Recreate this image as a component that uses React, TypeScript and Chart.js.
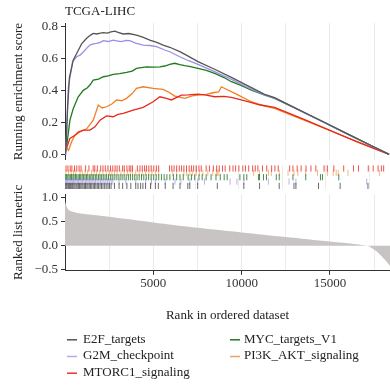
import React, { useEffect, useRef } from "react";
import { Chart, registerables } from "chart.js";

Chart.register(...registerables);

const FONT = "'Liberation Serif', 'Times New Roman', Times, serif";
const AXIS = "#333333";
const GRID = "#ebebeb";
const X_MAX = 18400;

const chartTitle = "TCGA-LIHC";
const esTitle = "Running enrichment score";
const metricTitle = "Ranked list metric";
const xTitle = "Rank in ordered dataset";
const xGridValues = [2500, 5000, 7500, 10000, 12500, 15000, 17500];
const xTickLabels = [5000, 10000, 15000];

const seriesNames = ["E2F_targets", "G2M_checkpoint", "MTORC1_signaling", "MYC_targets_V1", "PI3K_AKT_signaling"];
const seriesColors = ["#555555", "#9a8fe6", "#e8291e", "#1d7a1d", "#f07f22"];
const legendColors = ["#555555", "#b3aaea", "#e03a30", "#1d7a1d", "#f2a06a"];
const rugColors = [
  "rgba(70,70,70,0.8)",
  "rgba(140,128,225,0.6)",
  "rgba(232,40,30,0.8)",
  "rgba(30,112,30,0.8)",
  "rgba(240,140,60,0.62)",
];
// rug row (bottom = 0): E2F, G2M, MYC, PI3K, MTORC1
const rugRows = [0, 1, 4, 2, 3];

// Running enrichment score curves
const e2fRank = [0, 60, 150, 250, 470, 660, 940, 1225, 1450, 1600, 1800, 2000, 2165, 2400, 2600, 2825, 3000, 3300, 3600, 4050, 4400, 4800, 5200, 5555, 5930, 6500, 7000, 7530, 8500, 9420, 10500, 11300, 11865, 13000, 14500, 16000, 17300, 18350];
const e2fES = [0, 0.05, 0.3, 0.48, 0.59, 0.63, 0.69, 0.725, 0.745, 0.756, 0.752, 0.758, 0.76, 0.757, 0.765, 0.77, 0.762, 0.752, 0.755, 0.745, 0.732, 0.714, 0.7, 0.683, 0.669, 0.642, 0.612, 0.579, 0.53, 0.481, 0.42, 0.375, 0.354, 0.292, 0.21, 0.128, 0.057, 0];

const g2mRank = [0, 50, 190, 430, 660, 850, 1035, 1250, 1410, 1600, 1790, 2000, 2165, 2450, 2730, 3000, 3200, 3450, 3670, 4000, 4425, 4800, 5180, 5650, 5930, 6500, 7000, 7530, 8500, 9420, 10300, 11300, 11865, 13000, 14500, 16000, 17300, 18350];
const g2mES = [0, 0.02, 0.42, 0.58, 0.61, 0.62, 0.64, 0.665, 0.683, 0.69, 0.694, 0.7, 0.71, 0.705, 0.714, 0.708, 0.704, 0.712, 0.71, 0.695, 0.683, 0.68, 0.673, 0.652, 0.641, 0.61, 0.585, 0.5625, 0.515, 0.469, 0.42, 0.37, 0.352, 0.29, 0.209, 0.127, 0.056, 0];

const mtorRank = [0, 60, 280, 565, 750, 1035, 1410, 1695, 1980, 2355, 2730, 3000, 3300, 3860, 4425, 4990, 5370, 5745, 6025, 6300, 6590, 7000, 7530, 8000, 8475, 9000, 9420, 10360, 11000, 11865, 13500, 15000, 16500, 18350];
const mtorES = [0, 0.03, 0.1, 0.12, 0.14, 0.152, 0.152, 0.172, 0.214, 0.24, 0.235, 0.25, 0.256, 0.277, 0.294, 0.329, 0.36, 0.35, 0.34, 0.355, 0.37, 0.372, 0.377, 0.37, 0.36, 0.362, 0.356, 0.329, 0.31, 0.294, 0.22, 0.15, 0.08, 0];

const mycRank = [0, 60, 280, 470, 750, 1035, 1250, 1410, 1600, 1900, 2165, 2450, 2730, 3100, 3485, 3800, 4050, 4615, 5000, 5370, 5650, 5930, 6215, 6500, 6780, 7100, 7530, 8000, 8475, 9000, 9420, 10000, 10550, 11200, 11865, 13000, 14500, 16000, 17300, 18350];
const mycES = [0, 0.02, 0.214, 0.287, 0.36, 0.4, 0.415, 0.433, 0.464, 0.47, 0.485, 0.49, 0.5, 0.505, 0.512, 0.52, 0.5375, 0.547, 0.545, 0.547, 0.552, 0.5625, 0.569, 0.56, 0.554, 0.548, 0.5375, 0.525, 0.506, 0.48, 0.454, 0.43, 0.402, 0.375, 0.35, 0.29, 0.209, 0.127, 0.056, 0];

const pi3kRank = [0, 60, 200, 375, 565, 850, 1225, 1600, 1885, 2100, 2355, 2650, 2920, 3200, 3485, 3800, 4050, 4425, 4990, 5555, 5930, 6215, 6780, 7200, 7530, 8000, 8380, 8700, 8850, 9700, 10550, 11200, 11865, 13000, 14500, 16000, 17300, 18350];
const pi3kES = [0, 0.045, 0.025, 0.079, 0.12, 0.14, 0.16, 0.214, 0.308, 0.29, 0.2975, 0.315, 0.34, 0.335, 0.35, 0.38, 0.4125, 0.4225, 0.4125, 0.406, 0.385, 0.364, 0.35, 0.365, 0.37, 0.375, 0.385, 0.39, 0.4225, 0.376, 0.329, 0.305, 0.2875, 0.237, 0.171, 0.104, 0.047, 0];

// Gene-set hit positions (rug)
const e2fHits = [20, 75, 130, 195, 255, 320, 385, 440, 510, 570, 640, 700, 770, 835, 905, 975, 1040, 1115, 1180, 1255, 1320, 1395, 1470, 1540, 1625, 1700, 1775, 1855, 1930, 2015, 2100, 2185, 2280, 2370, 2470, 2560, 2650, 2844, 3108, 3314, 3560, 3785, 4068, 4199, 4350, 4480, 4633, 4916, 5198, 5368, 5763, 6215, 6611, 7063, 7175, 7628, 8758, 10283, 11187, 12317, 13165, 13278, 14577, 15820, 17420];
const g2mHits = [25, 90, 150, 220, 290, 350, 420, 490, 560, 630, 710, 780, 860, 930, 1010, 1090, 1170, 1250, 1330, 1420, 1500, 1590, 1680, 1760, 1850, 1950, 2040, 2140, 2240, 2340, 2450, 2550, 2660, 2750, 3108, 3503, 4068, 4633, 4972, 5198, 5763, 6328, 6667, 7175, 7628, 8023, 9492, 9888, 10283, 11696, 12882, 13278, 17346];
const mtorHits = [60, 170, 300, 395, 546, 678, 810, 923, 1186, 1375, 1619, 1714, 1864, 2053, 2184, 2316, 2467, 2617, 2749, 2881, 2994, 3126, 3314, 3408, 3559, 3691, 3785, 3879, 4161, 4312, 4444, 4576, 4689, 4821, 4952, 5103, 5254, 5386, 6007, 6139, 6271, 6421, 6572, 6704, 6836, 6986, 7137, 7269, 7400, 7551, 7702, 7834, 8116, 8305, 8530, 8719, 8870, 9058, 9208, 9472, 9660, 9811, 9999, 10225, 10375, 10564, 10790, 10941, 11091, 11355, 11600, 11882, 12070, 12259, 12918, 13106, 13351, 13577, 13859, 14142, 14425, 14895, 15084, 15460, 16025, 16590, 16873, 17438, 17720, 18003, 18191, 18323];
const mycHits = [20, 95, 160, 235, 305, 375, 455, 520, 600, 675, 755, 830, 905, 985, 1070, 1150, 1235, 1315, 1400, 1485, 1565, 1650, 1745, 1830, 1925, 2015, 2105, 2200, 2300, 2395, 2500, 2610, 2715, 2825, 2940, 3055, 3170, 3285, 3400, 3520, 3645, 3760, 3890, 4010, 4140, 4265, 4400, 4530, 4670, 4810, 4950, 5100, 5245, 5390, 5545, 5700, 5860, 6030, 6233, 6421, 6610, 6798, 7081, 7269, 7457, 7702, 7890, 8116, 8399, 8681, 8927, 9153, 9323, 10057, 10283, 10453, 11131, 11187, 11413, 11583, 12148, 12318, 13108, 13843, 14690, 14803, 15743];
const pi3kHits = [56, 207, 358, 490, 621, 866, 998, 1149, 1299, 1525, 1676, 1808, 1996, 2184, 2373, 2561, 2693, 2844, 2994, 3220, 3408, 3597, 3747, 3879, 4067, 4256, 4444, 4632, 4821, 5009, 5198, 5386, 6195, 6421, 6836, 6986, 7175, 7325, 7551, 7740, 7928, 8211, 8493, 8700, 8776, 8850, 10848, 11187, 11696, 11865, 12317, 12826, 13165, 13390, 13843, 14521, 15086, 15424, 15594, 15707, 16272, 18080];

// Ranked list metric
const metricRank = [0, 30, 100, 200, 400, 800, 1200, 2000, 2500, 3500, 5000, 7500, 10000, 12500, 15000, 16500, 16800, 17100, 17300, 17650, 17950, 18250, 18400];
const metricValue = [0.93, 0.88, 0.8, 0.74, 0.71, 0.67, 0.65, 0.62, 0.6, 0.55, 0.48, 0.37, 0.275, 0.18, 0.085, 0.03, 0.015, 0, -0.03, -0.12, -0.23, -0.35, -0.42];

const esRanks = [e2fRank, g2mRank, mtorRank, mycRank, pi3kRank];
const esValues = [e2fES, g2mES, mtorES, mycES, pi3kES];
const hitLists = [e2fHits, g2mHits, mtorHits, mycHits, pi3kHits];

const font13 = { family: FONT, size: 13, weight: "normal" as const };

function fmt(v: number) {
  const s = Math.abs(v).toFixed(1);
  return v < -1e-9 ? "\u2212" + s : s;
}

function isLabelled(v: any) {
  return xTickLabels.indexOf(Math.round(Number(v))) >= 0;
}

function xScale(showLabels: boolean) {
  return {
    type: "linear",
    min: 0,
    max: X_MAX,
    afterBuildTicks: (s: any) => {
      s.ticks = xGridValues.map((v) => ({ value: v }));
    },
    ticks: {
      display: showLabels,
      autoSkip: false,
      maxRotation: 0,
      minRotation: 0,
      padding: 1,
      font: font13,
      color: AXIS,
      callback: function (v: any) {
        return isLabelled(v) ? String(Math.round(Number(v))) : "";
      },
    },
    grid: {
      color: GRID,
      lineWidth: 1,
      drawTicks: showLabels,
      tickLength: 4,
      tickColor: (c: any) => (c.tick && isLabelled(c.tick.value) ? AXIS : "rgba(0,0,0,0)"),
    },
    border: { display: showLabels, color: AXIS, width: 1 },
    title: showLabels
      ? { display: true, text: xTitle, font: font13, color: "#222", padding: { top: 15, bottom: 4 } }
      : { display: false },
    afterFit: (s: any) => {
      s.paddingLeft = 0;
      s.paddingRight = 0;
    },
  };
}

function yScale(min: number, max: number, step: number, title: string) {
  return {
    type: "linear",
    min,
    max,
    ticks: { stepSize: step, includeBounds: false, padding: 3, font: font13, color: AXIS, callback: (v: number) => fmt(v) },
    grid: { drawOnChartArea: false, drawTicks: true, tickLength: 4, tickColor: AXIS },
    border: { display: true, color: AXIS, width: 1 },
    title: { display: true, text: title, font: font13, color: "#222", padding: { top: 11, bottom: 0 } },
    afterFit: (s: any) => {
      s.width = 65;
      s.paddingTop = 0;
      s.paddingBottom = 0;
    },
  };
}

const legendPlugin = {
  id: "gseaLegend",
  afterDraw(chart: any) {
    const ctx = chart.ctx;
    const left = chart.chartArea.left;
    const base = chart.scales.x.bottom;
    const rowsY = [12.3, 29, 45.7];
    const colLine = [2, 165];
    const colText = [18, 179];
    ctx.save();
    ctx.font = `13px ${FONT}`;
    ctx.textBaseline = "middle";
    ctx.textAlign = "left";
    seriesNames.forEach((name, i) => {
      const col = i < 3 ? 0 : 1;
      const row = i < 3 ? i : i - 3;
      const y = base + rowsY[row];
      ctx.strokeStyle = legendColors[i];
      ctx.lineWidth = 1.5;
      ctx.beginPath();
      ctx.moveTo(left + colLine[col], y + 0.5);
      ctx.lineTo(left + colLine[col] + 10, y + 0.5);
      ctx.stroke();
      ctx.fillStyle = "#222";
      ctx.fillText(name, left + colText[col], y);
    });
    ctx.restore();
  },
};

export default function App() {
  const topRef = useRef<HTMLCanvasElement>(null);
  const rugRef = useRef<HTMLCanvasElement>(null);
  const botRef = useRef<HTMLCanvasElement>(null);

  useEffect(() => {
    const common = {
      animation: false,
      responsive: false,
      maintainAspectRatio: false,
      devicePixelRatio: 1,
      events: [],
    };

    const top = new Chart(topRef.current as HTMLCanvasElement, {
      type: "line",
      data: {
        datasets: seriesNames.map((name, i) => ({
          label: name,
          data: esRanks[i].map((r, k) => ({ x: r, y: esValues[i][k] })),
          borderColor: seriesColors[i],
          backgroundColor: seriesColors[i],
          borderWidth: 1.3,
          pointRadius: 0,
          fill: false,
          tension: 0,
        })),
      },
      options: {
        ...common,
        layout: { padding: 0 },
        plugins: {
          legend: { display: false },
          tooltip: { enabled: false },
          title: {
            display: true,
            text: chartTitle,
            align: "start",
            fullSize: false,
            font: font13,
            color: "#222",
            padding: { top: 4, bottom: 3.5 },
          },
        },
        scales: {
          x: xScale(false),
          y: yScale(-0.035, 0.82, 0.2, esTitle),
        },
      } as any,
    });

    const rug = new Chart(rugRef.current as HTMLCanvasElement, {
      type: "scatter",
      data: {
        datasets: seriesNames.map((name, i) => ({
          label: name,
          data: hitLists[i].map((r) => ({ x: r, y: rugRows[i] })),
          pointStyle: "line",
          pointRotation: 90,
          pointRadius: 3.1,
          pointBorderWidth: 1,
          pointBorderColor: rugColors[i],
          pointBackgroundColor: rugColors[i],
          borderColor: rugColors[i],
          showLine: false,
        })),
      },
      options: {
        ...common,
        layout: { padding: { left: 65, right: 0, top: 0, bottom: 0 } },
        plugins: { legend: { display: false }, tooltip: { enabled: false }, title: { display: false } },
        scales: {
          x: xScale(false),
          y: { type: "linear", display: false, min: -0.7, max: 4.8 },
        },
      } as any,
    });

    const bot = new Chart(botRef.current as HTMLCanvasElement, {
      type: "line",
      data: {
        datasets: [
          {
            label: metricTitle,
            data: metricRank.map((r, k) => ({ x: r, y: metricValue[k] })),
            borderWidth: 0,
            borderColor: "rgba(0,0,0,0)",
            backgroundColor: "#c8c4c4",
            pointRadius: 0,
            fill: "origin",
            tension: 0.3,
          },
        ],
      },
      options: {
        ...common,
        layout: { padding: { left: 0, right: 0, top: 14, bottom: 58 } },
        plugins: { legend: { display: false }, tooltip: { enabled: false }, title: { display: false } },
        scales: {
          x: xScale(true),
          y: yScale(-0.52, 1.07, 0.5, metricTitle),
        },
      } as any,
      plugins: [legendPlugin],
    });

    return () => {
      top.destroy();
      rug.destroy();
      bot.destroy();
    };
  }, []);

  return (
    <div style={{ position: "absolute", left: 0, top: 0, width: 390, height: 385, background: "#fff", overflow: "hidden" }}>
      <canvas ref={topRef} width={390} height={160} style={{ position: "absolute", left: 0, top: 0, width: 390, height: 160 }} />
      <canvas ref={rugRef} width={390} height={34} style={{ position: "absolute", left: 0, top: 160, width: 390, height: 34 }} />
      <canvas ref={botRef} width={390} height={205} style={{ position: "absolute", left: 0, top: 180, width: 390, height: 205 }} />
    </div>
  );
}
